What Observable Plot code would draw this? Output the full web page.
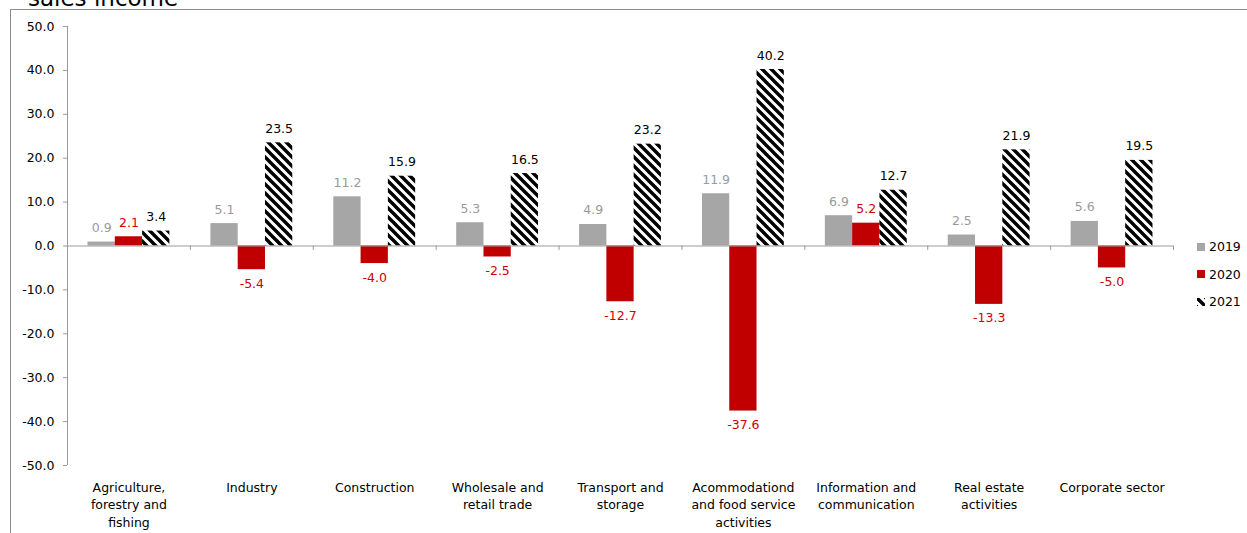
<!DOCTYPE html>
<html>
<head>
<meta charset="utf-8">
<script src="https://cdn.jsdelivr.net/npm/d3@7"></script>
<script src="https://cdn.jsdelivr.net/npm/@observablehq/plot@0.6"></script>
<style>
  html, body { margin: 0; padding: 0; background: #fff; overflow: hidden; }
  body { width: 1247px; height: 533px; position: relative; font-family: "DejaVu Sans", Verdana, sans-serif; }
  #title { position: absolute; left: 28px; top: -13px; font-size: 23px; line-height: 1; color: #000; white-space: nowrap; }
  #frame { position: absolute; left: 10px; top: 9px; width: 1300px; height: 600px; border-left: 1px solid #8c8c8c; border-top: 1px solid #8c8c8c; }
  #chart { position: absolute; left: 0; top: 0; }
  #legend { position: absolute; left: 1196px; top: 233px; font-size: 12.5px; color: #000; }
  #legend .item { display: flex; align-items: center; height: 27.5px; }
  #legend svg { margin-right: 3px; }
</style>
</head>
<body>
<div id="title">sales income</div>
<div id="frame"></div>
<div id="chart"></div>
<div id="legend"></div>
<script>
const categories = [
  "Agriculture,\nforestry and\nfishing",
  "Industry",
  "Construction",
  "Wholesale and\nretail trade",
  "Transport and\nstorage",
  "Acommodationd\nand food service\nactivities",
  "Information and\ncommunication",
  "Real estate\nactivities",
  "Corporate sector"
];
const years = ["2019", "2020", "2021"];
const v2019 = [0.9, 5.1, 11.2, 5.3, 4.9, 11.9, 6.9, 2.5, 5.6];
const v2020 = [2.1, -5.4, -4.0, -2.5, -12.7, -37.6, 5.2, -13.3, -5.0];
const v2021 = [3.4, 23.5, 15.9, 16.5, 23.2, 40.2, 12.7, 21.9, 19.5];
const yTicks = [-50, -40, -30, -20, -10, 0, 10, 20, 30, 40, 50];

const series = [v2019, v2020, v2021];
const barFill = ["#a6a6a6", "#c00000", "url(#hatch2021)"];
const labelFill = ["#9a9a9a", "#d00000", "#000000"];
const barW = 0.222; // fraction of a category band per bar

const rows = [];
series.forEach((vals, j) => {
  vals.forEach((v, i) => {
    const x1 = i + (j - 1.5) * barW;
    rows.push({cat: i, year: years[j], j, value: v, x1, x2: x1 + barW, xc: x1 + barW / 2});
  });
});
const pos = rows.filter(d => d.value >= 0);
const neg = rows.filter(d => d.value < 0);
const bounds = d3.range(categories.length + 1).map(i => i - 0.5);
const catIdx = d3.range(categories.length);

const chart = Plot.plot({
  width: 1247,
  height: 533,
  marginLeft: 67,
  marginRight: 74,
  marginTop: 26,
  marginBottom: 68,
  style: {fontFamily: "DejaVu Sans, Verdana, sans-serif", fontSize: "12.5px", color: "#000", background: "transparent"},
  x: {domain: [-0.5, categories.length - 0.5], axis: null},
  y: {domain: [-50, 50], axis: null},
  marks: [
    Plot.ruleX([-0.5], {stroke: "#9a9a9a", strokeWidth: 1}),
    Plot.axisY(yTicks, {label: null, tickSize: 4, tickPadding: 9, tickFormat: d => d.toFixed(1), stroke: "#9a9a9a", fill: "#000", fontSize: 12.5}),
    Plot.rectY(rows, {x1: "x1", x2: "x2", y1: 0, y2: "value", fill: d => barFill[d.j]}),
    Plot.ruleY([0], {stroke: "#9a9a9a", strokeWidth: 1}),
    Plot.ruleX(bounds.slice(1), {y1: 0, y2: -1, stroke: "#9a9a9a"}),
    Plot.text(pos, {x: "xc", y: "value", text: d => d.value.toFixed(1), fill: d => labelFill[d.j], dy: -14, fontSize: 12.5}),
    Plot.text(neg, {x: "xc", y: "value", text: d => d.value.toFixed(1), fill: d => labelFill[d.j], dy: 14, fontSize: 12.5}),
    Plot.axisX(catIdx, {label: null, anchor: "bottom", tickSize: 0, tickPadding: 14, tickFormat: i => categories[i], lineAnchor: "top", fontSize: 12.5, fill: "#000", lineHeight: 1.4})
  ]
});

// hatch pattern definition
const defs = d3.select(chart).insert("defs", ":first-child");
const pat = defs.append("pattern").attr("id", "hatch2021").attr("patternUnits", "userSpaceOnUse")
  .attr("width", 9).attr("height", 9);
pat.append("rect").attr("width", 9).attr("height", 9).attr("fill", "#fff");
pat.append("path").attr("d", "M-2,-2L11,11M-2,7L2,11M7,-2L11,2").attr("stroke", "#000").attr("stroke-width", 3.4);
document.getElementById("chart").appendChild(chart);

// legend
const legend = d3.select("#legend");
years.forEach((y, j) => {
  const item = legend.append("div").attr("class", "item");
  const s = item.append("svg").attr("width", 10).attr("height", 10);
  if (j === 2) {
    const d = s.append("defs").append("pattern").attr("id", "hatchLeg").attr("patternUnits", "userSpaceOnUse").attr("width", 9).attr("height", 9);
    d.append("rect").attr("width", 9).attr("height", 9).attr("fill", "#fff");
    d.append("path").attr("d", "M-2,-2L11,11M-2,7L2,11M7,-2L11,2").attr("stroke", "#000").attr("stroke-width", 3.4);
    s.append("rect").attr("x", 1).attr("y", 1).attr("width", 8).attr("height", 8).attr("fill", "url(#hatchLeg)");
  } else {
    s.append("rect").attr("x", 1).attr("y", 1).attr("width", 8).attr("height", 8).attr("fill", barFill[j]);
  }
  item.append("span").text(y);
});
</script>
</body>
</html>
